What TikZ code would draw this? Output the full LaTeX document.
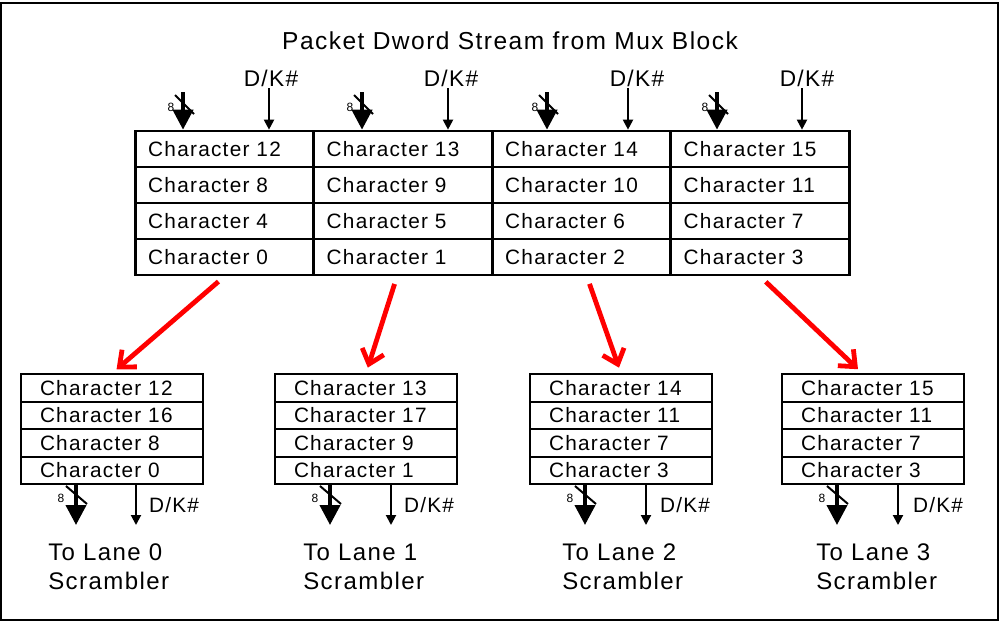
\documentclass[tikz,border=0pt]{standalone}
\usepackage{fontspec}
\setmainfont{Liberation Sans}[LetterSpace=6]
\usetikzlibrary{arrows.meta}
\begin{document}
\begin{tikzpicture}[x=0.75pt,y=-0.75pt,
  cell/.style={draw,line width=2pt,text width=114.4pt,align=left,inner xsep=9.75pt,inner ysep=0pt,minimum height=27pt,font=\fontsize{15.6}{18}\selectfont},
  lanecell/.style={draw,line width=1.4pt,text width=108pt,align=left,inner xsep=14.25pt,inner ysep=0pt,minimum height=20.6pt,font=\fontsize{15.6}{18}\selectfont},
  buswire/.style={line width=3pt,-{Triangle[width=15pt,length=15pt]}},
  flagwire/.style={line width=1.5pt,-{Triangle[width=7.5pt,length=7.5pt]}},
  busslash/.style={line width=1.5pt},
  redarrow/.style={draw=red,line width=3.6pt,-{Straight Barb[length=10pt,width=17pt]},shorten <=6pt,shorten >=4.5pt},
  eight/.style={inner sep=0pt,font=\fontsize{9}{10}\selectfont},
  flag/.style={inner sep=0pt,font=\fontsize{17}{19}\selectfont},
  lowflag/.style={inner sep=0pt,font=\fontsize{15.6}{18}\selectfont},
  lanetext/.style={inner sep=0pt,align=left,anchor=west,font=\fontsize{18}{21.75}\selectfont}]
\useasboundingbox (0,0) rectangle (1003,628);
\draw[line width=1.1pt] (1,3) rectangle (998,620);
\node[font=\fontsize{18.4}{21}\selectfont] (title) at (510,41) {Packet Dword Stream from Mux Block};
% dword table
\node[cell] (C12) at (224.5,149) {Character 12};
\node[cell] (C13) at (403,149) {Character 13};
\node[cell] (C14) at (581.5,149) {Character 14};
\node[cell] (C15) at (760,149) {Character 15};
\node[cell] (C8) at (224.5,185) {Character 8};
\node[cell] (C9) at (403,185) {Character 9};
\node[cell] (C10) at (581.5,185) {Character 10};
\node[cell] (C11) at (760,185) {Character 11};
\node[cell] (C4) at (224.5,221) {Character 4};
\node[cell] (C5) at (403,221) {Character 5};
\node[cell] (C6) at (581.5,221) {Character 6};
\node[cell] (C7) at (760,221) {Character 7};
\node[cell] (C0) at (224.5,257) {Character 0};
\node[cell] (C1) at (403,257) {Character 1};
\node[cell] (C2) at (581.5,257) {Character 2};
\node[cell] (C3) at (760,257) {Character 3};
% inputs
\coordinate (b0) at (183,92);
\coordinate (b1) at (362,92);
\coordinate (b2) at (547,92);
\coordinate (b3) at (717,92);
\coordinate (k0) at (269,88);
\coordinate (k1) at (448,88);
\coordinate (k2) at (628,88);
\coordinate (k3) at (802,88);
\draw[buswire] (b0) -- (b0 |- C12.north);
\draw[busslash] ([shift={(-8,3)}]b0) -- ([shift={(11,22)}]b0);
\node[eight] (n0) at (171,107) {8};
\draw[flagwire] (k0) -- (k0 |- C12.north);
\node[flag] (kl0) at (271,78) {D/K\#};
\draw[buswire] (b1) -- (b1 |- C13.north);
\draw[busslash] ([shift={(-8,3)}]b1) -- ([shift={(11,22)}]b1);
\node[eight] (n1) at (350,107) {8};
\draw[flagwire] (k1) -- (k1 |- C13.north);
\node[flag] (kl1) at (451,78) {D/K\#};
\draw[buswire] (b2) -- (b2 |- C14.north);
\draw[busslash] ([shift={(-8,3)}]b2) -- ([shift={(11,22)}]b2);
\node[eight] (n2) at (535,107) {8};
\draw[flagwire] (k2) -- (k2 |- C14.north);
\node[flag] (kl2) at (637,78) {D/K\#};
\draw[buswire] (b3) -- (b3 |- C15.north);
\draw[busslash] ([shift={(-8,3)}]b3) -- ([shift={(11,22)}]b3);
\node[eight] (n3) at (705,107) {8};
\draw[flagwire] (k3) -- (k3 |- C15.north);
\node[flag] (kl3) at (807,78) {D/K\#};
% lane buffers
\node[lanecell] (L0a) at (112,388) {Character 12};
\node[lanecell] (L0b) at (112,415.5) {Character 16};
\node[lanecell] (L0c) at (112,443) {Character 8};
\node[lanecell] (L0d) at (112,470.5) {Character 0};
\node[lanecell] (L1a) at (366,388) {Character 13};
\node[lanecell] (L1b) at (366,415.5) {Character 17};
\node[lanecell] (L1c) at (366,443) {Character 9};
\node[lanecell] (L1d) at (366,470.5) {Character 1};
\node[lanecell] (L2a) at (621,388) {Character 14};
\node[lanecell] (L2b) at (621,415.5) {Character 11};
\node[lanecell] (L2c) at (621,443) {Character 7};
\node[lanecell] (L2d) at (621,470.5) {Character 3};
\node[lanecell] (L3a) at (873,388) {Character 15};
\node[lanecell] (L3b) at (873,415.5) {Character 11};
\node[lanecell] (L3c) at (873,443) {Character 7};
\node[lanecell] (L3d) at (873,470.5) {Character 3};
% striping
\draw[redarrow] (C0.south) -- (L0a.north);
\draw[redarrow] ([xshift=-4.5pt]C1.south) -- (L1a.north);
\draw[redarrow] ([xshift=4pt]C2.south) -- (L2a.north);
\draw[redarrow] (C3.south) -- ([xshift=-8pt]L3a.north);
% outputs
\coordinate (o0) at (76,525);
\coordinate (o1) at (330,525);
\coordinate (o2) at (585,525);
\coordinate (o3) at (837,525);
\coordinate (f0) at (136,525);
\coordinate (f1) at (391,525);
\coordinate (f2) at (646,525);
\coordinate (f3) at (898,525);
\draw[buswire] (L0d.south -| o0) -- (o0);
\draw[busslash] ([shift={(-10,-39)}]o0) -- ([shift={(11,-21)}]o0);
\node[eight] (m0) at (61,498) {8};
\draw[flagwire] (L0d.south -| f0) -- (f0);
\node[lowflag] (fl0) at (174,505) {D/K\#};
\node[lanetext] (T0) at (48,566.5) {To Lane 0\\Scrambler};
\draw[buswire] (L1d.south -| o1) -- (o1);
\draw[busslash] ([shift={(-10,-39)}]o1) -- ([shift={(11,-21)}]o1);
\node[eight] (m1) at (315,498) {8};
\draw[flagwire] (L1d.south -| f1) -- (f1);
\node[lowflag] (fl1) at (429,505) {D/K\#};
\node[lanetext] (T1) at (303,566.5) {To Lane 1\\Scrambler};
\draw[buswire] (L2d.south -| o2) -- (o2);
\draw[busslash] ([shift={(-10,-39)}]o2) -- ([shift={(11,-21)}]o2);
\node[eight] (m2) at (570,498) {8};
\draw[flagwire] (L2d.south -| f2) -- (f2);
\node[lowflag] (fl2) at (685,505) {D/K\#};
\node[lanetext] (T2) at (562,566.5) {To Lane 2\\Scrambler};
\draw[buswire] (L3d.south -| o3) -- (o3);
\draw[busslash] ([shift={(-10,-39)}]o3) -- ([shift={(11,-21)}]o3);
\node[eight] (m3) at (822,498) {8};
\draw[flagwire] (L3d.south -| f3) -- (f3);
\node[lowflag] (fl3) at (938,505) {D/K\#};
\node[lanetext] (T3) at (816,566.5) {To Lane 3\\Scrambler};
\end{tikzpicture}
\end{document}
